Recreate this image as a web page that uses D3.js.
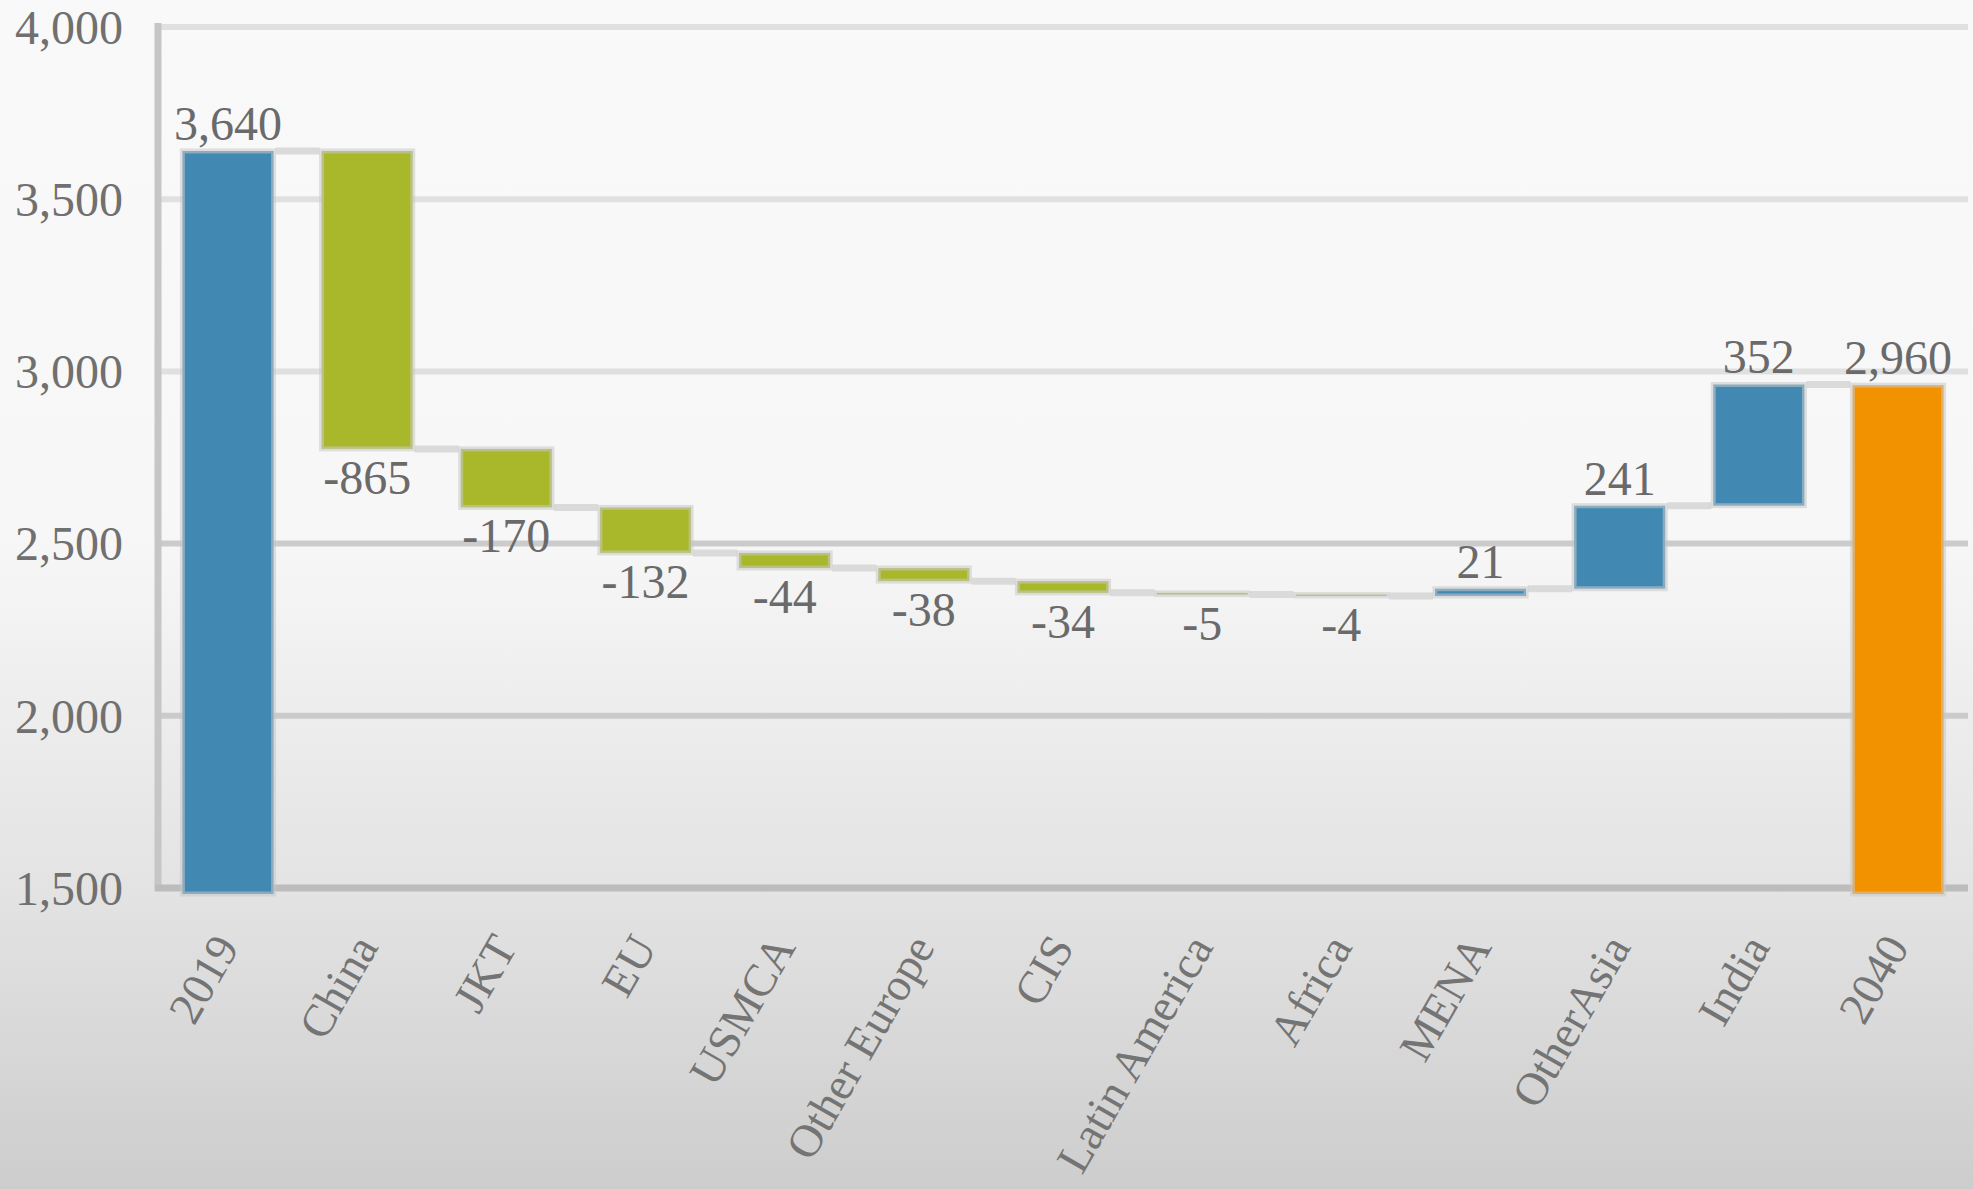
<!DOCTYPE html>
<html>
<head>
<meta charset="utf-8">
<script src="https://cdn.jsdelivr.net/npm/d3@7"></script>
<style>
  html, body { margin: 0; padding: 0; background: #f9f9f9; }
  svg { display: block; }
</style>
</head>
<body>
<svg id="chart" width="1973" height="1189"></svg>
<script>
// Waterfall: change from 2019 to 2040 by region
const categories = ["2019", "China", "JKT", "EU", "USMCA", "Other Europe", "CIS",
  "Latin America", "Africa", "MENA", "OtherAsia", "India", "2040"];
const startTotal = 3640;
const endTotal = 2960;
const deltas = [-865, -170, -132, -44, -38, -34, -5, -4, 21, 241, 352];
const yTicks = [1500, 2000, 2500, 3000, 3500, 4000];

const W = 1973, H = 1189;
const colors = { start: "#4189b2", up: "#4189b2", down: "#a8b82a", end: "#f39200" };

const fmt = d3.formatLocale({ decimal: ".", thousands: ",", grouping: [3], currency: ["", ""], minus: "-" }).format(",");

// Build the step records
const steps = [];
let running = startTotal;
steps.push({ cat: categories[0], from: yTicks[0], to: startTotal, label: startTotal, kind: "start", level: startTotal });
deltas.forEach((d, i) => {
  const from = running;
  running += d;
  steps.push({ cat: categories[i + 1], from, to: running, label: d, kind: d < 0 ? "down" : "up", level: running });
});
steps.push({ cat: categories[categories.length - 1], from: yTicks[0], to: endTotal, label: endTotal, kind: "end", level: endTotal });

const svg = d3.select("#chart");

// Background shading
const defs = svg.append("defs");
const grad = defs.append("linearGradient").attr("id", "bg").attr("x1", 0).attr("y1", 0).attr("x2", 0).attr("y2", 1);
[[0, "#f9f9f9"], [0.45, "#f7f7f7"], [0.75, "#e3e3e3"], [1, "#cdcdcd"]].forEach(([o, c]) =>
  grad.append("stop").attr("offset", o).attr("stop-color", c));
svg.append("rect").attr("width", W).attr("height", H).attr("fill", "url(#bg)");

const x = d3.scaleBand().domain(categories).range([158.4, 1967.6])
  .paddingInner(0.345).paddingOuter(0.1725);
const y = d3.scaleLinear().domain([yTicks[0], yTicks[yTicks.length - 1]]).range([888, 27]);

const plotLeft = 158, plotRight = 1968;

// Gridlines
const gridColor = v => v >= 3000 ? "#e0e0e0" : "#cbcbcb";
svg.append("g").selectAll("line")
  .data(yTicks.slice(1))
  .join("line")
  .attr("x1", plotLeft).attr("x2", plotRight)
  .attr("y1", d => y(d)).attr("y2", d => y(d))
  .attr("stroke", gridColor).attr("stroke-width", 6);

// Axis lines
svg.append("line")
  .attr("x1", plotLeft).attr("x2", plotLeft)
  .attr("y1", y(yTicks[yTicks.length - 1]) - 4).attr("y2", y(yTicks[0]) + 3)
  .attr("stroke", "#c6c6c6").attr("stroke-width", 7);
svg.append("line")
  .attr("x1", plotLeft - 3).attr("x2", plotRight)
  .attr("y1", y(yTicks[0])).attr("y2", y(yTicks[0]))
  .attr("stroke", "#bcbcbc").attr("stroke-width", 7);

// Y tick labels
const yAxis = d3.axisLeft(y).tickValues(yTicks).tickFormat(fmt).tickSize(0).tickPadding(0);
const yg = svg.append("g").attr("transform", `translate(123,0)`).call(yAxis);
yg.select(".domain").remove();
yg.selectAll("text")
  .attr("font-family", "'Liberation Serif', 'Times New Roman', serif")
  .attr("font-size", 48).attr("fill", "#707070").attr("dy", "0.34em");

// Connectors between consecutive bars
svg.append("g").selectAll("line")
  .data(steps.slice(0, -1))
  .join("line")
  .attr("x1", d => x(d.cat) + x.bandwidth() + 2)
  .attr("x2", (d, i) => x(steps[i + 1].cat) - 2)
  .attr("y1", d => y(d.level)).attr("y2", d => y(d.level))
  .attr("stroke", "#dadada").attr("stroke-width", 7);

// Bars
const overhang = 6;
svg.append("g").selectAll("rect")
  .data(steps)
  .join("rect")
  .attr("x", d => x(d.cat))
  .attr("width", x.bandwidth())
  .attr("y", d => y(Math.max(d.from, d.to)))
  .attr("height", d => Math.abs(y(d.from) - y(d.to)) + (d.kind === "start" || d.kind === "end" ? overhang : 0))
  .attr("fill", d => colors[d.kind])
  .attr("stroke", "rgba(200,200,200,0.55)")
  .attr("stroke-width", 5);

// Value labels
svg.append("g").selectAll("text")
  .data(steps)
  .join("text")
  .attr("x", d => x(d.cat) + x.bandwidth() / 2)
  .attr("y", d => d.kind === "down" ? y(d.to) + 45 : y(Math.max(d.from, d.to)) - 11)
  .attr("text-anchor", "middle")
  .attr("font-family", "'Liberation Serif', 'Times New Roman', serif")
  .attr("font-size", 48).attr("fill", "#6a6a6a")
  .text(d => fmt(d.label));

// Category labels
svg.append("g").selectAll("text")
  .data(categories)
  .join("text")
  .attr("transform", d => `translate(${x(d) + x.bandwidth() / 2 + 12},947) rotate(-60)`)
  .attr("text-anchor", "end")
  .attr("font-family", "'Liberation Serif', 'Times New Roman', serif")
  .attr("font-size", 46).attr("fill", "#747474")
  .text(d => d);
</script>
</body>
</html>
